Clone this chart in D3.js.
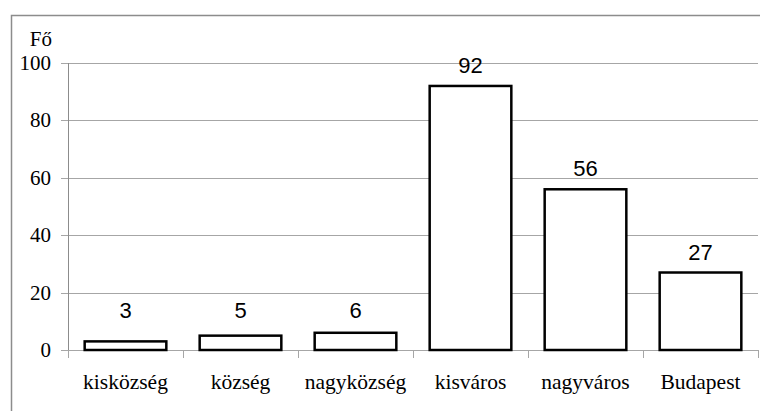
<!DOCTYPE html>
<html>
<head>
<meta charset="utf-8">
<script src="https://cdn.jsdelivr.net/npm/d3@7"></script>
<style>
  body { margin: 0; background: #fff; }
  svg { display: block; }
</style>
</head>
<body>
<div id="chart"></div>
<script>
const categories = ["kisközség", "község", "nagyközség", "kisváros", "nagyváros", "Budapest"];
const values = [3, 5, 6, 92, 56, 27];
const yTicks = [0, 20, 40, 60, 80, 100];
const yLabel = "Fő";

const width = 760, height = 411;
const margin = {top: 63, right: 2, bottom: 61, left: 68};
const serif = "\"Liberation Serif\"";
const sans = "\"Liberation Sans\"";

const svg = d3.select("#chart").append("svg")
    .attr("width", width)
    .attr("height", height);

// outer frame
svg.append("rect")
    .attr("x", 11.5).attr("y", 15.5)
    .attr("width", 760).attr("height", 410)
    .attr("fill", "none")
    .attr("stroke", "#8c8c8c")
    .attr("stroke-width", 1.5);

let x = d3.scaleBand()
    .domain(categories)
    .range([margin.left, width - margin.right])
    .paddingInner(0.29)
    .paddingOuter(0.145);

let y = d3.scaleLinear()
    .domain([0, 100])
    .range([height - margin.bottom, margin.top]);

// place text by measuring it instead of using text-anchor
function anchorText(sel, anchor) {
  sel.each(function() {
    let t = d3.select(this);
    let w = this.getComputedTextLength();
    let x0 = +t.attr("x");
    t.attr("x", anchor === "end" ? x0 - w : x0 - w / 2);
  });
}

// gridlines (start left of axis, doubling as tick marks)
svg.selectAll("line.grid")
    .data(yTicks)
    .enter().append("line")
      .attr("class", "grid")
      .attr("x1", margin.left - 7)
      .attr("x2", width - margin.right)
      .attr("y1", d => Math.round(y(d)) + 0.5)
      .attr("y2", d => Math.round(y(d)) + 0.5)
      .attr("stroke", "#a6a6a6")
      .attr("stroke-width", 1);

// y axis line
svg.append("line")
    .attr("x1", margin.left + 0.5).attr("x2", margin.left + 0.5)
    .attr("y1", y(100)).attr("y2", y(0))
    .attr("stroke", "#8c8c8c");

// x tick marks at band boundaries
let bounds = categories.map(c => x(c) - x.step() * x.paddingInner() / 2);
bounds.push(width - margin.right);
bounds[0] = margin.left;
svg.selectAll("line.xtick")
    .data(bounds)
    .enter().append("line")
      .attr("class", "xtick")
      .attr("x1", d => Math.round(d) + 0.5)
      .attr("x2", d => Math.round(d) + 0.5)
      .attr("y1", y(0))
      .attr("y2", y(0) + 8)
      .attr("stroke", "#a6a6a6");

// bars
svg.selectAll("rect.bar")
    .data(values)
    .enter().append("rect")
      .attr("class", "bar")
      .attr("x", (d, i) => x(categories[i]))
      .attr("y", d => y(d))
      .attr("width", x.bandwidth())
      .attr("height", d => y(0) - y(d))
      .attr("fill", "#fff")
      .attr("stroke", "#000")
      .attr("stroke-width", 2.5);

// y tick labels
svg.selectAll("text.ytick")
    .data(yTicks)
    .enter().append("text")
      .attr("class", "ytick")
      .attr("x", 51)
      .attr("y", d => y(d) + 7)
      .attr("font-family", "Liberation Serif")
      .style("font-family", serif)
      .style("font-size", "21px")
      .text(d => d)
      .call(anchorText, "end");

svg.append("text")
    .attr("x", 52)
    .attr("y", 46)
    .attr("font-family", "Liberation Serif")
    .style("font-family", serif)
    .style("font-size", "21px")
    .text(yLabel)
    .call(anchorText, "end");

// value labels
svg.selectAll("text.value")
    .data(values)
    .enter().append("text")
      .attr("class", "value")
      .attr("x", (d, i) => x(categories[i]) + x.bandwidth() / 2)
      .attr("y", d => Math.min(y(d) - 13, y(0) - 32))
      .attr("font-family", "Liberation Sans")
      .style("font-family", sans)
      .style("font-size", "22px")
      .text(d => d)
      .call(anchorText, "middle");

// category labels
svg.selectAll("text.cat")
    .data(categories)
    .enter().append("text")
      .attr("class", "cat")
      .attr("x", d => x(d) + x.bandwidth() / 2)
      .attr("y", 389)
      .attr("font-family", "Liberation Serif")
      .style("font-family", serif)
      .style("font-size", "21.5px")
      .text(d => d)
      .call(anchorText, "middle");
</script>
</body>
</html>
